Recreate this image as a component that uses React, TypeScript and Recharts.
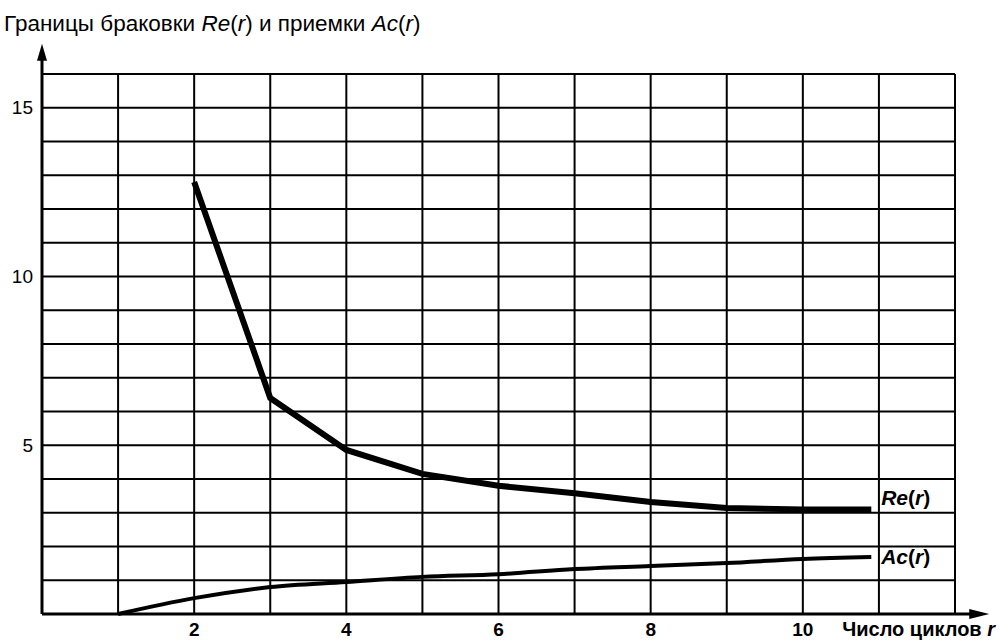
import {
  LineChart,
  Line,
  XAxis,
  YAxis,
  CartesianGrid,
  ReferenceLine,
  ReferenceDot,
} from 'recharts';

// число циклов r
const cycles = [1, 2, 3, 4, 5, 6, 7, 8, 9, 10, 10.9];
// граница браковки Re(r)
const reValues: (number | null)[] = [null, 12.8, 6.4, 4.86, 4.15, 3.8, 3.58, 3.32, 3.14, 3.1, 3.1];
// граница приемки Ac(r)
const acValues = [0, 0.47, 0.8, 0.95, 1.1, 1.18, 1.33, 1.42, 1.51, 1.63, 1.69];

const xTicks = [0, 1, 2, 3, 4, 5, 6, 7, 8, 9, 10, 11, 12];
const yTicks = [0, 1, 2, 3, 4, 5, 6, 7, 8, 9, 10, 11, 12, 13, 14, 15, 16];
const xLabelled = [2, 4, 6, 8, 10];
const yLabelled = [5, 10, 15];

const FONT = '"Liberation Sans", Arial, sans-serif';

const data = cycles.map((r, i) => ({ r, re: reValues[i], ac: acValues[i] }));

// ось со стрелкой на конце
const arrowAxis = (props: any) => {
  const { x1, y1, x2, y2 } = props;
  const vertical = Math.abs(x2 - x1) < Math.abs(y2 - y1);
  const head = vertical
    ? `${x2},${y2} ${x2 - 5},${y2 + 17} ${x2 + 5},${y2 + 17}`
    : `${x2},${y2} ${x2 - 20},${y2 - 5} ${x2 - 20},${y2 + 5}`;
  return (
    <g>
      <line
        x1={x1}
        y1={y1}
        x2={vertical ? x2 : x2 - 12}
        y2={vertical ? y2 + 10 : y2}
        stroke="#000"
        strokeWidth={3}
      />
      <polygon points={head} fill="#000" />
    </g>
  );
};

const seriesLabel = (name: string) => (props: any) => {
  const { viewBox } = props;
  const x = viewBox.x + viewBox.width / 2;
  const y = viewBox.y + viewBox.height / 2;
  return (
    <text x={x} y={y} dy="0.35em" fontFamily={FONT} fontSize={21} fontWeight="bold" fill="#000">
      <tspan fontStyle="italic">{name}</tspan>
      <tspan>(</tspan>
      <tspan fontStyle="italic">r</tspan>
      <tspan>)</tspan>
    </text>
  );
};

export default function App() {
  return (
    <div style={{ position: 'absolute', left: 0, top: 0, width: 1001, height: 642, background: '#fff' }}>
      <div
        style={{
          position: 'absolute',
          left: 4,
          top: 13,
          fontFamily: FONT,
          fontSize: 22.5,
          lineHeight: '22px',
          color: '#000',
          whiteSpace: 'nowrap',
        }}
      >
        Границы браковки <i>Re</i>(<i>r</i>) и приемки <i>Ac</i>(<i>r</i>)
      </div>
      <LineChart
        width={1001}
        height={642}
        data={data}
        margin={{ top: 74, right: 46, bottom: 0, left: 0 }}
        style={{ position: 'absolute', left: 0, top: 0, overflow: 'visible' }}
      >
        <CartesianGrid stroke="#000" strokeWidth={2} strokeOpacity={1} />
        <XAxis
          dataKey="r"
          type="number"
          domain={[0, 12]}
          ticks={xTicks}
          interval={0}
          height={28}
          axisLine={false}
          tickLine={false}
          tickSize={6}
          tickMargin={3}
          tickFormatter={(v: number) => (xLabelled.includes(v) ? String(v) : '')}
          tick={{ fill: '#000', fontSize: 19, fontWeight: 'bold', fontFamily: FONT }}
        />
        <YAxis
          type="number"
          domain={[0, 16]}
          ticks={yTicks}
          interval={0}
          width={42}
          axisLine={false}
          tickLine={false}
          tickSize={6}
          tickMargin={3}
          tickFormatter={(v: number) => (yLabelled.includes(v) ? String(v) : '')}
          tick={{ fill: '#000', fontSize: 19, fontFamily: FONT }}
        />
        <ReferenceLine
          segment={[{ x: 0, y: 0 }, { x: 0, y: 16.9 }]}
          ifOverflow="visible"
          shape={arrowAxis}
        />
        <ReferenceLine
          segment={[{ x: 0, y: 0 }, { x: 12.45, y: 0 }]}
          ifOverflow="visible"
          shape={arrowAxis}
        />
        <Line
          type="linear"
          dataKey="re"
          stroke="#000"
          strokeWidth={6}
          dot={false}
          activeDot={false}
          isAnimationActive={false}
        />
        <Line
          type="monotone"
          dataKey="ac"
          stroke="#000"
          strokeWidth={4}
          dot={false}
          activeDot={false}
          isAnimationActive={false}
        />
        <ReferenceDot x={11.03} y={3.46} r={0} ifOverflow="visible" label={{ content: seriesLabel('Re') }} />
        <ReferenceDot x={11.03} y={1.69} r={0} ifOverflow="visible" label={{ content: seriesLabel('Ac') }} />
        <text x={995} y={636} textAnchor="end" fontFamily={FONT} fontSize={20} fontWeight="bold" fill="#000">
          Число циклов <tspan fontStyle="italic">r</tspan>
        </text>
      </LineChart>
    </div>
  );
}
